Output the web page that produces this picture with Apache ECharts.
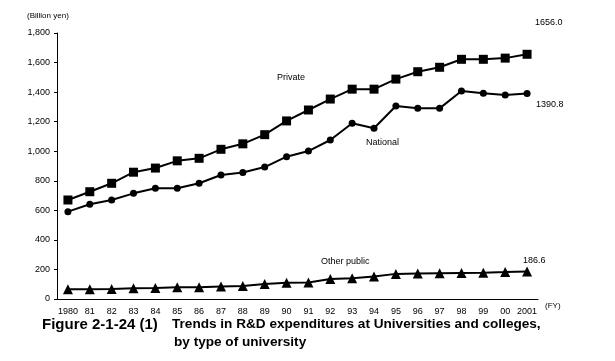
<!DOCTYPE html>
<html><head><meta charset="utf-8">
<script src="https://cdn.jsdelivr.net/npm/echarts@6/dist/echarts.min.js"></script>
<style>html,body{margin:0;padding:0;background:#fff}#c{width:615px;height:361px}</style>
</head><body><div id="c"></div>
<script>
const years = ['1980','81','82','83','84','85','86','87','88','89','90','91','92','93','94','95','96','97','98','99','00','2001'];
const privateVals = [670,726,783,858,886,935,952,1013,1050,1112,1205,1279,1353,1420,1420,1488,1538,1568,1622,1622,1630,1656.0];
const nationalVals = [591,641,670,715,749,749,783,839,856,893,963,1001,1076,1189,1155,1306,1290,1290,1408,1392,1380,1390.8];
const otherVals = [66,66,67,72,74,79,80,84,88,101,110,112,135,140,152,170,172,174,176,178,182,186.6];
const yTicks = [0,200,400,600,800,1000,1200,1400,1600,1800];
const seriesNames = ['Private','National','Other public'];

const chart = echarts.init(document.getElementById('c'));
const F = 'Liberation Sans, Arial, sans-serif';
const lineStyle = {color:'#000', width:2};
chart.setOption({
  animation:false,
  grid:{left:57,right:77,top:33,bottom:62},
  xAxis:{type:'category',data:years,boundaryGap:true,
    axisLine:{lineStyle:{color:'#000',width:1}},
    axisTick:{inside:true,length:3,lineStyle:{color:'#000'}},
    axisLabel:{color:'#000',fontFamily:F,fontSize:9,margin:8,interval:0}},
  yAxis:{type:'value',min:yTicks[0],max:yTicks[yTicks.length-1],interval:200,
    splitLine:{show:false},
    axisLine:{show:true,lineStyle:{color:'#000',width:1}},
    axisTick:{show:true,length:3,lineStyle:{color:'#000'}},
    axisLabel:{color:'#000',fontFamily:F,fontSize:9,margin:7,
      formatter:v=>v.toLocaleString('en-US')}},
  series:[
    {name:seriesNames[0],type:'line',data:privateVals,symbol:'rect',symbolSize:9,
      lineStyle,itemStyle:{color:'#000'}},
    {name:seriesNames[1],type:'line',data:nationalVals,symbol:'circle',symbolSize:7,
      lineStyle,itemStyle:{color:'#000'}},
    {name:seriesNames[2],type:'line',data:otherVals,symbol:'triangle',symbolSize:10,
      lineStyle,itemStyle:{color:'#000'}}
  ],
  graphic:[
    {type:'text',left:27,top:12,style:{text:'(Billion yen)',font:'8px '+F,fill:'#000'}},
    {type:'text',left:545,top:302,style:{text:'(FY)',font:'8px '+F,fill:'#000'}},
    {type:'text',left:277,top:73,style:{text:seriesNames[0],font:'9px '+F,fill:'#000'}},
    {type:'text',left:366,top:138,style:{text:seriesNames[1],font:'9px '+F,fill:'#000'}},
    {type:'text',left:321,top:257,style:{text:seriesNames[2],font:'9px '+F,fill:'#000'}},
    {type:'text',left:535,top:18,style:{text:privateVals[21].toFixed(1),font:'9px '+F,fill:'#000'}},
    {type:'text',left:536,top:100,style:{text:nationalVals[21].toFixed(1),font:'9px '+F,fill:'#000'}},
    {type:'text',left:523,top:256,style:{text:otherVals[21].toFixed(1),font:'9px '+F,fill:'#000'}},
    {type:'text',left:42,top:317,style:{text:'Figure 2-1-24 (1)',font:'bold 15px '+F,fill:'#000'}},
    {type:'text',left:172,top:317,style:{text:'Trends in R&D expenditures at Universities and colleges,',font:'bold 13.6px '+F,fill:'#000'}},
    {type:'text',left:174,top:335,style:{text:'by type of university',font:'bold 13.6px '+F,fill:'#000'}}
  ]
});
</script></body></html>
